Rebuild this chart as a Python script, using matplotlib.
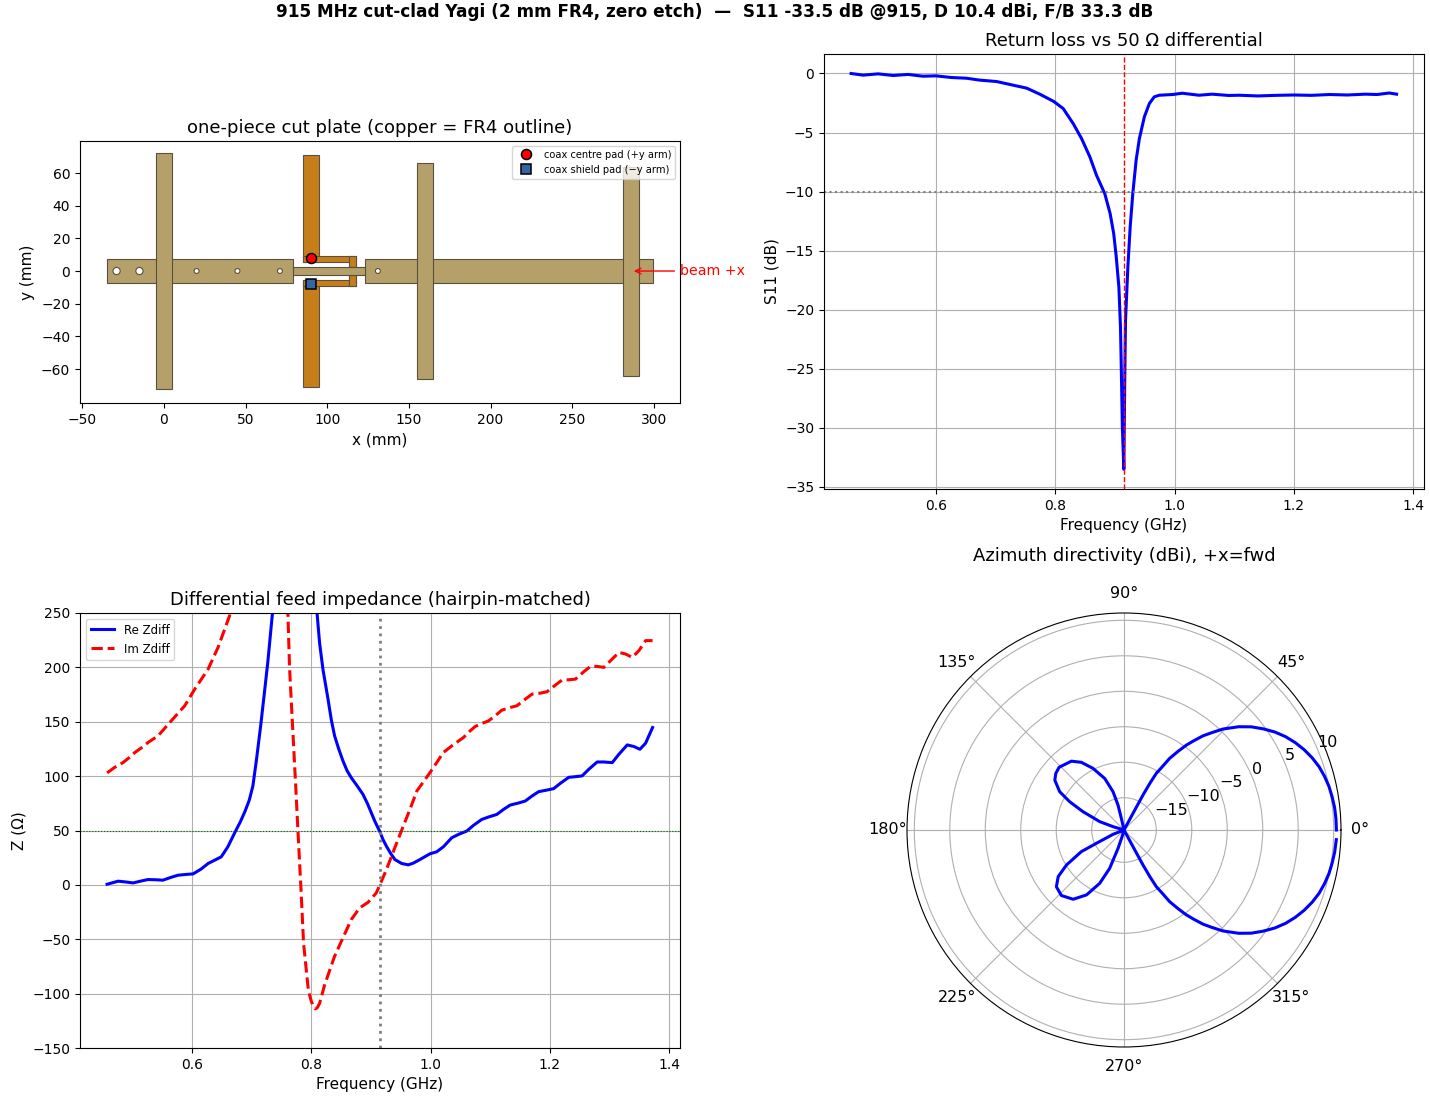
import numpy as np
import matplotlib
matplotlib.use("Agg")
import matplotlib.pyplot as plt
from matplotlib.patches import Rectangle, Circle

# S11
s11_freq = [0.4575, 0.4775, 0.503, 0.528, 0.553, 0.578, 0.60, 0.6257, 0.651, 0.673, 0.7015, 0.724, 0.752,
            0.774, 0.7975, 0.8133, 0.83, 0.844, 0.858, 0.869, 0.883, 0.892, 0.898, 0.9022, 0.9067,
            0.9094, 0.911, 0.9125, 0.915, 0.9165, 0.9178, 0.9217, 0.9256, 0.93, 0.9356, 0.9411, 0.9494,
            0.9578, 0.966, 0.9744, 0.9967, 1.013, 1.041, 1.063, 1.091, 1.108, 1.14, 1.17, 1.20, 1.23,
            1.26, 1.29, 1.32, 1.34, 1.36, 1.3725]
s11_db = [0.0, -0.14, -0.03, -0.17, -0.08, -0.23, -0.2, -0.34, -0.4, -0.56, -0.68, -0.93, -1.24,
          -1.75, -2.37, -2.97, -4.24, -5.5, -7.06, -8.6, -10.17, -11.86, -13.56, -15.5, -18.1,
          -21.5, -25.7, -29.9, -33.5, -26.0, -20.9, -16.4, -13.0, -10.17, -7.34, -5.5, -3.67,
          -2.54, -1.98, -1.84, -1.78, -1.67, -1.84, -1.75, -1.86, -1.84, -1.9, -1.85, -1.82, -1.85,
          -1.78, -1.82, -1.75, -1.78, -1.65, -1.75]

# feed impedance
re_freq = [0.4575, 0.476, 0.49, 0.501, 0.515, 0.526, 0.54, 0.551, 0.564, 0.5765, 0.59, 0.6017, 0.615, 0.627,
           0.639, 0.649, 0.66, 0.6715, 0.681, 0.689, 0.696, 0.702, 0.708, 0.715, 0.721, 0.727, 0.735,
           0.76, 0.785, 0.8095, 0.814, 0.8196, 0.828, 0.8335, 0.8391, 0.846, 0.8531, 0.86, 0.867, 0.877,
           0.8866, 0.894, 0.9006, 0.907, 0.915, 0.92, 0.926, 0.933, 0.9402, 0.9514, 0.9626, 0.9711, 0.9823,
           0.9991, 1.0103, 1.0215, 1.0356, 1.0468, 1.0608, 1.072, 1.086, 1.0973, 1.1113, 1.1225, 1.1337,
           1.1477, 1.159, 1.1702, 1.1814, 1.1926, 1.2066, 1.2178, 1.2319, 1.2431, 1.2543, 1.2655, 1.2795,
           1.2907, 1.3048, 1.316, 1.33, 1.3412, 1.3513, 1.3608, 1.3725]
re_z = [0.6, 3.4, 2.6, 1.8, 3.6, 4.9, 4.7, 4.3, 6.8, 8.9, 9.6, 10.1, 14.5, 19.7,
        23, 25.8, 35, 47.9, 58, 67.9, 78, 90.9, 115, 146, 175, 204.6, 250.7,
        420, 420, 250.7, 222, 198, 171, 152, 137, 125, 114, 105, 98.6, 91,
        83.3, 75, 66.4, 58, 49, 42, 35.6, 29, 23.3, 19.7, 18.4, 20, 23.3,
        28.6, 30.4, 35, 43.3, 46.4, 49.5, 54.7, 60.2, 62.4, 64.8, 69.4, 73.4,
        75.3, 77.1, 81.7, 85.7, 86.9, 88.5, 93.4, 98.9, 99.5, 100.2, 106.3, 113,
        113, 112.4, 120.1, 128.7, 127.2, 124.7, 130.3, 144.7]
im_freq = [0.4575, 0.47, 0.484, 0.4945, 0.5039, 0.515, 0.526, 0.5428, 0.5626, 0.5877, 0.6045, 0.627, 0.6436,
           0.663, 0.70, 0.74, 0.7607, 0.7635, 0.768, 0.773, 0.7776, 0.783, 0.787, 0.7944, 0.797, 0.80, 0.803,
           0.8067, 0.81, 0.814, 0.8224, 0.839, 0.853, 0.867, 0.881, 0.8953, 0.909, 0.915, 0.926, 0.94, 0.9543,
           0.9655, 0.977, 0.9991, 1.0103, 1.0215, 1.0356, 1.0552, 1.0664, 1.0748, 1.086, 1.0973, 1.1085, 1.1197,
           1.1337, 1.1449, 1.159, 1.1702, 1.1842, 1.1954, 1.2094, 1.2206, 1.2319, 1.2431, 1.2571, 1.2683,
           1.2795, 1.2907, 1.3048, 1.316, 1.3272, 1.3384, 1.3496, 1.3608, 1.3725]
im_z = [103, 108, 112.4, 117, 121.7, 126, 130.9, 137, 149.3, 164.7, 180, 198.5, 218.4,
        247.6, 360, 400, 250.7, 200, 152, 100, 49.8, -7.4, -53.5, -93.4, -101, -107, -111,
        -114, -113, -108.8, -91.9, -65.7, -48.8, -32, -21.2, -16, -7.4, 0, 14, 34, 54,
        69.4, 86.3, 103.2, 112.4, 121.7, 127.8, 135.5, 141.6, 145.6, 148.4, 150.8, 155.5, 160.7,
        163.1, 164.7, 170.8, 175.4, 176.3, 177.6, 183.7, 188.3, 188.6, 189.2, 196, 200.9,
        200.9, 200, 207.7, 213.8, 212.3, 209.2, 215.4, 224.6, 224.6]

# azimuth pattern (values at the bottom of the r axis sit on the centre)
az_deg = [0, 3, 6, 9, 12, 15, 18, 21, 24, 27, 30, 33, 36, 39, 42, 45.6, 48, 50, 52, 53.7, 55.5, 57.5, 59,
          60.3, 61, 61.5, 61.6, 62,
          100, 102.9, 103.5, 106, 110.5, 116.7, 122.2, 127.4, 136, 140.3, 144.2, 149.2, 152.5, 155.9, 161, 163, 165,
          199, 201.5, 205.7, 206.9, 211.3, 215.3, 220, 226.3, 233.7, 240, 245.5, 249.5, 252, 254, 256,
          298, 298.4, 298.5, 299, 299.7, 301, 302.5, 304.5, 306.3, 308, 310, 312, 314.4, 318, 321, 324, 327,
          330, 333, 336, 339, 342, 345, 348, 351, 354, 357.4]
az_db = [10.38, 10.36, 10.3, 10.15, 9.98, 9.7, 9.35, 8.85, 8.25, 7.55, 6.75, 5.8, 4.7, 3.55, 2.2, 0.36, -1.1, -2.23,
         -3.6, -4.71, -6.1, -7.58, -9.3, -10.35, -12, -13.96, -16.87, -19.55,
         -19.55, -17.86, -15.94, -13.92, -11.8, -9.83, -8.28, -7.34, -6.83, -7.06, -7.53, -8.99, -10.91, -13.21,
         -15.94, -17.95, -19.55,
         -19.55, -17.9, -15.23, -12.79, -10.07, -8.19, -7.11, -6.78, -7.44, -8.99, -11.29, -13.78, -16.83, -18.61, -19.55,
         -19.55, -16.87, -13.96, -12, -10.35, -9.3, -7.58, -6.1, -4.71, -3.6, -2.23, -1.1, 0.36, 2.2, 3.55, 4.7, 5.8,
         6.75, 7.55, 8.25, 8.85, 9.35, 9.7, 9.98, 10.15, 10.3, 10.4]

# plate outline, mm
element_x = [0, 160, 286]
element_half = [72.5, 66, 64]
driven_x = 90
driven_half = 71
hole_x = [-29, -15, 20, 45, 71, 131]
hole_r = [2.2, 2.2, 1.5, 1.5, 1.5, 1.5]

tan = '#b5a06a'
copper = '#c67e1a'
edge = '#5a5040'
W, H = 1430, 1100


def px_axes(left, top, right, bottom, **kw):
    return fig.add_axes([left / W, 1 - bottom / H, (right - left) / W, (bottom - top) / H], **kw)


plt.rcParams['axes.labelsize'] = 11
plt.rcParams['axes.titlesize'] = 13

fig = plt.figure(figsize=(14.3, 11), dpi=100)
fig.suptitle('915 MHz cut-clad Yagi (2 mm FR4, zero etch)  —  S11 -33.5 dB @915, D 10.4 dBi, F/B 33.3 dB',
             fontsize=12.2, fontweight='bold', y=0.9976)

# ---- plate
ax = px_axes(80, 141, 680, 403)
for x0, x1 in [(-35, 79.3), (123.3, 299.5)]:
    ax.add_patch(Rectangle((x0, -7.2), x1 - x0, 14.4, fc=tan, ec=edge, lw=0.8))
for x, h in zip(element_x, element_half):
    ax.add_patch(Rectangle((x - 5, -h), 10, 2 * h, fc=tan, ec=edge, lw=0.8))
# driven element and hairpin
for sgn in (1, -1):
    y0, y1 = sorted((sgn * 5.7, sgn * driven_half))
    ax.add_patch(Rectangle((driven_x - 5, y0), 10, y1 - y0, fc=copper, ec=edge, lw=0.8))
    y0, y1 = sorted((sgn * 5.7, sgn * 9.4))
    ax.add_patch(Rectangle((driven_x - 5, y0), 32.4, y1 - y0, fc=copper, ec=edge, lw=0.8))
    y0, y1 = sorted((sgn * 2.7, sgn * 9.4))
    ax.add_patch(Rectangle((113.4, y0), 4, y1 - y0, fc=copper, ec=edge, lw=0.8))
ax.add_patch(Rectangle((79.3, -2.7), 44, 5.4, fc=tan, ec=edge, lw=0.8))
for x, r in zip(hole_x, hole_r):
    ax.add_patch(Circle((x, 0), r, fc='white', ec=edge, lw=0.8))
ax.plot([90], [8], 'o', color='red', mec='black', ms=7.2, mew=1.1, ls='none', label='coax centre pad (+y arm)')
ax.plot([90], [-8], 's', color='#3465a4', mec='black', ms=6.8, mew=1.1, ls='none', label='coax shield pad (\u2212y arm)')
ax.annotate('beam +x', xy=(286, 0), xytext=(316, 0), color='red', fontsize=10.2, va='center',
            annotation_clip=False, arrowprops=dict(arrowstyle='->', color='red'))
ax.set_xlim(-51.4, 316)
ax.set_ylim(-80.8, 79.6)
ax.set_yticks([-60, -40, -20, 0, 20, 40, 60])
ax.set_aspect('equal')
ax.set_xlabel('x (mm)')
ax.set_ylabel('y (mm)')
ax.set_title('one-piece cut plate (copper = FR4 outline)')
ax.legend(loc='upper right', fontsize=7.1)

# ---- S11
ax = px_axes(824, 54, 1424, 489)
ax.plot(s11_freq, s11_db, 'b-', lw=2.2)
ax.axvline(0.915, color='r', ls='--', lw=1)
ax.axhline(-10, color='gray', ls=':', lw=1.5)
ax.set_xlim(0.412, 1.4185)
ax.set_ylim(-35.17, 1.65)
ax.set_xlabel('Frequency (GHz)')
ax.set_ylabel('S11 (dB)')
ax.set_title('Return loss vs 50 \u03a9 differential')
ax.grid(True)

# ---- impedance
ax = px_axes(80, 613, 680, 1048)
ax.plot(re_freq, re_z, 'b-', lw=2.2, label='Re Zdiff')
ax.plot(im_freq, im_z, 'r--', lw=2.2, label='Im Zdiff')
ax.axhline(50, color='darkgreen', ls=':', lw=0.8)
ax.axvline(0.915, color='gray', ls=':', lw=2)
ax.set_xlim(0.412, 1.4185)
ax.set_ylim(-150, 250)
ax.set_xlabel('Frequency (GHz)')
ax.set_ylabel('Z (\u03a9)')
ax.set_title('Differential feed impedance (hairpin-matched)')
ax.legend(loc='upper left', fontsize=8.5)
ax.grid(True)

# ---- polar
ax = px_axes(907, 613, 1341, 1047, projection='polar')
ax.plot(np.radians(az_deg), az_db, 'b-', lw=2.2)
ax.set_ylim(-19.55, 11.03)
ax.set_yticks([-15, -10, -5, 0, 5, 10])
ax.tick_params(labelsize=11.5)
ax.set_title('Azimuth directivity (dBi), +x=fwd', pad=18)

fig.savefig('out.png', dpi=100)
